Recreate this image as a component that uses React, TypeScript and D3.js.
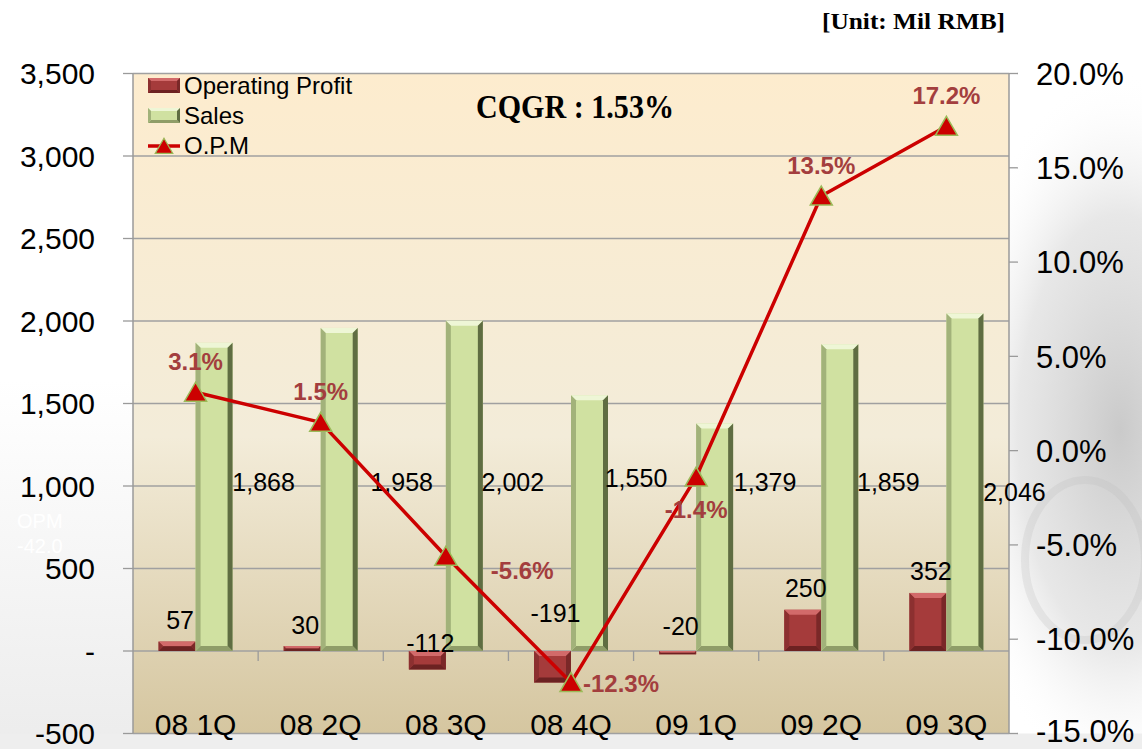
import React from 'react';
import * as d3 from 'd3';

const categories = ['08 1Q', '08 2Q', '08 3Q', '08 4Q', '09 1Q', '09 2Q', '09 3Q'];
const operatingProfit = [57, 30, -112, -191, -20, 250, 352];
const sales = [1868, 1958, 2002, 1550, 1379, 1859, 2046];
const opm = [3.1, 1.5, -5.6, -12.3, -1.4, 13.5, 17.2];
const leftTicks = [-500, 0, 500, 1000, 1500, 2000, 2500, 3000, 3500];
const rightTicks = [-15, -10, -5, 0, 5, 10, 15, 20];
const legendItems = ['Operating Profit', 'Sales', 'O.P.M'];
const titleText = 'CQGR : 1.53%';
const unitText = '[Unit: Mil RMB]';

// layout nudges (label placement, not data)
const opmLabelPlace: [number, number, string][] = [
  [0, -22, 'middle'], [0, -22, 'middle'], [45, 23, 'start'], [12, 9, 'start'],
  [0, 41, 'middle'], [0, -22, 'middle'], [0, -22, 'middle'],
];
const salesLabelDx = [68, 81, 67, 65, 69, 67, 68];
const salesLabelDy = [0, 0, 0, -4, 0, 0, 10];
const opNegLabelDy = [0, 0, 1, -29, -16, 0, 0];

const W = 1142, H = 749;
const L = 133, R = 1009, T = 73.5, B = 733.5;
const BW = 37;

const x = d3.scaleBand<string>().domain(categories).range([L, R]).padding(0);
const yL = d3.scaleLinear().domain([-500, 3500]).range([B, T]);
const yR = d3.scaleLinear().domain([-15, 20]).range([B, T]);

const FONT = 'Liberation Sans, Arial, sans-serif';
const SERIF = 'Liberation Serif, Times New Roman, serif';
const fmt = (v: number) => d3.format(',')(v).replace('\u2212', '-');

type BevelColors = { face: string; top: string; bottom: string; left: string; right: string };
const opColors: BevelColors = { face: '#a53b3b', top: '#d26a6a', bottom: '#6c2222', left: '#8c3030', right: '#7a2828' };
const salesColors: BevelColors = { face: '#d0e1a1', top: '#eef6d6', bottom: '#8f9d68', left: '#a2b27a', right: '#5f6d42' };

function Bevel({ x0, y0, w, h, c, b = 5 }: { x0: number; y0: number; w: number; h: number; c: BevelColors; b?: number }) {
  const bb = Math.max(0.5, Math.min(b, h / 2, w / 2));
  const x1 = x0 + w, y1 = y0 + h;
  return (
    <g>
      <rect x={x0} y={y0} width={w} height={h} fill={c.face} />
      <polygon points={`${x0},${y0} ${x1},${y0} ${x1 - bb},${y0 + bb} ${x0 + bb},${y0 + bb}`} fill={c.top} />
      <polygon points={`${x0},${y1} ${x1},${y1} ${x1 - bb},${y1 - bb} ${x0 + bb},${y1 - bb}`} fill={c.bottom} />
      <polygon points={`${x0},${y0} ${x0 + bb},${y0 + bb} ${x0 + bb},${y1 - bb} ${x0},${y1}`} fill={c.left} />
      <polygon points={`${x1},${y0} ${x1 - bb},${y0 + bb} ${x1 - bb},${y1 - bb} ${x1},${y1}`} fill={c.right} />
    </g>
  );
}

const tri = (cx: number, cy: number, s = 1) =>
  `M${cx},${cy - 11 * s} L${cx + 11 * s},${cy + 8 * s} L${cx - 11 * s},${cy + 8 * s} Z`;

export default function App() {
  const cx = (c: string) => (x(c) as number) + x.bandwidth() / 2;
  const line = d3.line<number>().x((_, i) => cx(categories[i])).y((d) => yR(d));
  const y0 = yL(0);

  return (
    <svg width={W} height={H} style={{ position: 'absolute', left: 0, top: 0 }}>
      <defs>
        <linearGradient id="plotBg" x1="0" y1="0" x2="0" y2="1">
          <stop offset="0" stopColor="#fdecce" />
          <stop offset="0.55" stopColor="#f3ecd9" />
          <stop offset="1" stopColor="#d5c6a0" />
        </linearGradient>
        <radialGradient id="hdd" cx="0.5" cy="0.5" r="0.5">
          <stop offset="0" stopColor="#c4c4c4" stopOpacity="0.9" />
          <stop offset="0.6" stopColor="#d8d8d8" stopOpacity="0.6" />
          <stop offset="1" stopColor="#ffffff" stopOpacity="0" />
        </radialGradient>
        <linearGradient id="leftBg" x1="0" y1="0" x2="0" y2="1">
          <stop offset="0" stopColor="#ffffff" />
          <stop offset="1" stopColor="#ececec" />
        </linearGradient>
      </defs>
      <rect width={W} height={H} fill="#ffffff" />
      <rect x={0} y={380} width={L} height={H - 380} fill="url(#leftBg)" />
      <ellipse cx={1120} cy={430} rx={170} ry={360} fill="url(#hdd)" />
      <ellipse cx={1085} cy={560} rx={60} ry={80} fill="none" stroke="#bdbdbd" strokeOpacity={0.25} strokeWidth={8} />
      <rect x={0} y={B} width={W} height={H - B} fill="#eeeeee" />
      <text x={17} y={528} fontFamily={FONT} fontSize={20} fill="#ffffff">OPM</text>
      <text x={17} y={553} fontFamily={FONT} fontSize={20} fill="#ffffff">-42.0</text>

      {/* plot area */}
      <rect x={L} y={T} width={R - L} height={B - T} fill="url(#plotBg)" />
      {leftTicks.map((t) => (
        <line key={t} x1={L} x2={R} y1={yL(t)} y2={yL(t)} stroke="#a0a0a0" strokeWidth={1.3} />
      ))}
      <line x1={L} x2={L} y1={T} y2={B} stroke="#9a9a9a" strokeWidth={1.5} />
      <line x1={R} x2={R} y1={T} y2={B} stroke="#9a9a9a" strokeWidth={1.5} />
      {leftTicks.map((t) => (
        <line key={'lt' + t} x1={L - 10} x2={L} y1={yL(t)} y2={yL(t)} stroke="#9a9a9a" strokeWidth={1.3} />
      ))}
      {rightTicks.map((t) => (
        <line key={'rt' + t} x1={R} x2={R + 9} y1={yR(t)} y2={yR(t)} stroke="#9a9a9a" strokeWidth={1.3} />
      ))}
      {categories.slice(1).map((c) => (
        <line key={'xt' + c} x1={x(c) as number} x2={x(c) as number} y1={y0} y2={y0 + 10} stroke="#9a9a9a" strokeWidth={1.3} />
      ))}

      {/* bars */}
      {categories.map((c, i) => {
        const v = operatingProfit[i];
        const top = Math.min(yL(v), y0);
        const h = Math.abs(yL(v) - y0);
        return <Bevel key={'op' + c} x0={cx(c) - BW} y0={top} w={BW} h={h} c={opColors} />;
      })}
      {categories.map((c, i) => (
        <Bevel key={'s' + c} x0={cx(c)} y0={yL(sales[i])} w={BW} h={y0 - yL(sales[i])} c={salesColors} />
      ))}

      {/* op labels */}
      {categories.map((c, i) => {
        const v = operatingProfit[i];
        const yy = v >= 0 ? yL(v) - 12.5 : y0 + opNegLabelDy[i];
        return (
          <text key={'opl' + c} x={cx(c) - BW / 2 + 3} y={yy} textAnchor="middle" fontFamily={FONT} fontSize={25} fill="#000">
            {fmt(v)}
          </text>
        );
      })}
      {/* sales labels */}
      {categories.map((c, i) => (
        <text key={'sl' + c} x={cx(c) + salesLabelDx[i]} y={yL(1000) + 5 + salesLabelDy[i]} textAnchor="middle" fontFamily={FONT} fontSize={25} fill="#000">
          {fmt(sales[i])}
        </text>
      ))}

      {/* OPM line */}
      <path d={line(opm) || ''} fill="none" stroke="#cc0000" strokeWidth={3.5} strokeLinejoin="round" />
      {opm.map((v, i) => (
        <path key={'m' + i} d={tri(cx(categories[i]), yR(v) + 1)} fill="#cc0000" stroke="#9bbb59" strokeWidth={1.5} />
      ))}
      {opm.map((v, i) => {
        const [dx, dy, anchor] = opmLabelPlace[i];
        return (
          <text key={'ol' + i} x={cx(categories[i]) + dx} y={yR(v) + dy} textAnchor={anchor as any} fontFamily={FONT} fontWeight="bold" fontSize={24} fill="#a33e3e">
            {v.toFixed(1) + '%'}
          </text>
        );
      })}

      {/* axis labels */}
      {leftTicks.map((t) => (
        <text key={'ll' + t} x={95} y={yL(t)} dy="0.36em" textAnchor="end" fontFamily={FONT} fontSize={30} fill="#000">
          {t === 0 ? '-' : fmt(t)}
        </text>
      ))}
      {rightTicks.map((t) => (
        <text key={'rl' + t} x={1036} y={Math.min(yR(t), 731)} dy="0.36em" textAnchor="start" fontFamily={FONT} fontSize={31} fill="#000">
          {t.toFixed(1) + '%'}
        </text>
      ))}
      {categories.map((c) => (
        <text key={'xl' + c} x={cx(c)} y={735} textAnchor="middle" fontFamily={FONT} fontSize={30} fill="#000">
          {c}
        </text>
      ))}

      {/* legend */}
      <g>
        <Bevel x0={148} y0={78} w={32} h={15} c={opColors} b={3} />
        <text x={184} y={93.5} fontFamily={FONT} fontSize={24} fill="#000">{legendItems[0]}</text>
        <Bevel x0={148} y0={108} w={32} h={15} c={salesColors} b={3} />
        <text x={184} y={123.5} fontFamily={FONT} fontSize={24} fill="#000">{legendItems[1]}</text>
        <line x1={148} x2={180} y1={146} y2={146} stroke="#cc0000" strokeWidth={3.5} />
        <path d={tri(164, 147, 0.8)} fill="#cc0000" stroke="#9bbb59" strokeWidth={1.2} />
        <text x={184} y={153.5} fontFamily={FONT} fontSize={24} fill="#000">{legendItems[2]}</text>
      </g>

      <text x={476} y={118} fontFamily={SERIF} fontWeight="bold" fontSize={33} textLength={198} lengthAdjust="spacingAndGlyphs" fill="#000">
        {titleText}
      </text>
      <text x={822} y={29} fontFamily={SERIF} fontWeight="bold" fontSize={24} textLength={183} lengthAdjust="spacingAndGlyphs" fill="#000">
        {unitText}
      </text>
    </svg>
  );
}
